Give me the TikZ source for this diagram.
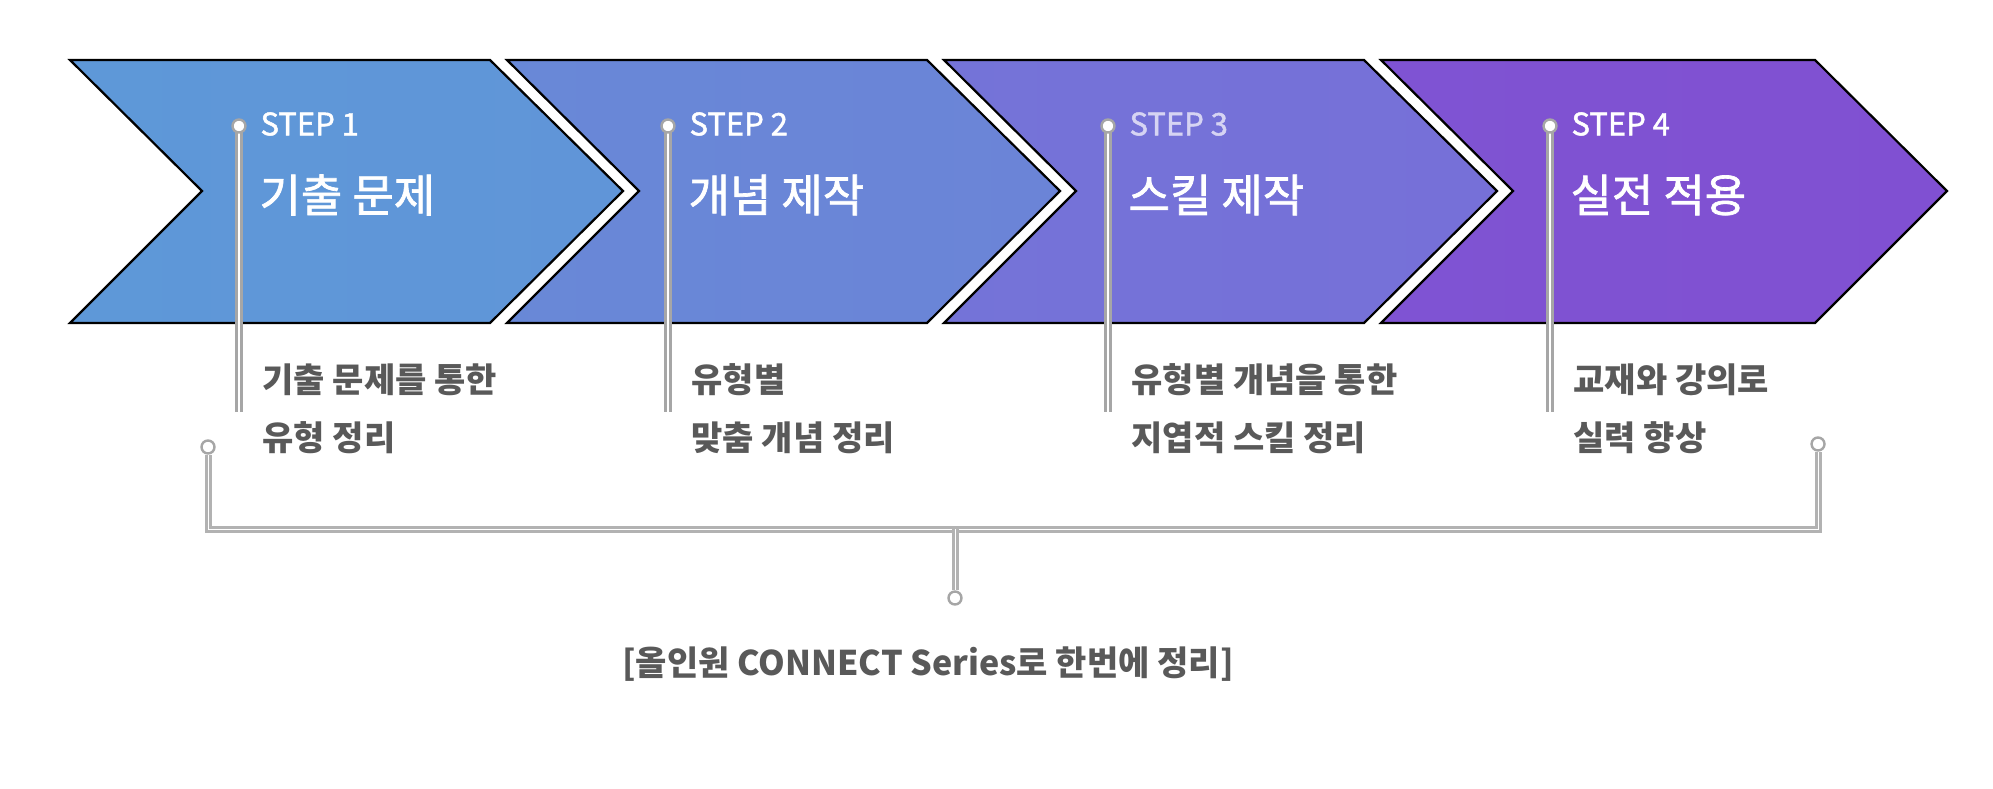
\documentclass[tikz,border=0pt]{standalone}
\usepackage{fontspec}
\setmainfont{Noto Sans CJK KR}
\newfontfamily\medf{Noto Sans CJK KR}[FakeBold=1.5]
\begin{document}
\begin{tikzpicture}[x=1pt,y=-1pt,
  chev/.style={draw=black,line width=2.2pt,line join=miter},
  lead/.style={draw=gray!70,line width=3.6pt,double=white,double distance=1.6pt},
  dot/.style={circle,draw=gray!70,fill=white,line width=2.4pt,minimum size=13pt,inner sep=0pt},
  steplbl/.style={anchor=west,text=white,font=\medf\fontsize{31}{34}\selectfont},
  ttl/.style={anchor=west,text=white,font=\medf\fontsize{45}{50}\selectfont},
  desc/.style={anchor=north west,align=left,text=black!65,font=\fontsize{34}{58}\selectfont\bfseries},
  lnk/.style={draw=gray!60,line width=3pt,double=white,double distance=1pt}]
\useasboundingbox (0,0) rectangle (1993,789);
\definecolor{c1}{HTML}{5E98D8}\definecolor{c2}{HTML}{6B84D7}
\definecolor{c3}{HTML}{7670D8}\definecolor{c4}{HTML}{8050D2}
\path[chev,left color=c1,right color=c1!85!c2] (70,60)--(490,60)--(623,191)--(490,323)--(70,323)--(202,191)--cycle;
\path[chev,left color=c2!80!c1,right color=c2] (507,60)--(927,60)--(1060,191)--(927,323)--(507,323)--(639,191)--cycle;
\path[chev,left color=c3!85!c2,right color=c3] (944,60)--(1364,60)--(1497,191)--(1364,323)--(944,323)--(1076,191)--cycle;
\path[chev,left color=c4!90!c3,right color=c4] (1381,60)--(1815,60)--(1947,191)--(1815,323)--(1381,323)--(1513,191)--cycle;
\foreach \i/\x/\s/\t/\d/\sc in {1/239/STEP 1/기출 문제/{기출 문제를 통한\\유형 정리}/white,
  2/668/STEP 2/개념 제작/{유형별\\맞춤 개념 정리}/white,
  3/1108/STEP 3/스킬 제작/{유형별 개념을 통한\\지엽적 스킬 정리}/c3!30!white,
  4/1550/STEP 4/실전 적용/{교재와 강의로\\실력 향상}/white}{
  \coordinate (e\i) at (\x,412);
  \draw[lead] (\x,126) -- (e\i);
  \node[dot] (d\i) at (\x,126) {};
  \node[steplbl,text=\sc] (s\i) at (\x+18,124) {\s};
  \node[ttl] (t\i) at (\x+17,195) {\t};
  \node[desc] (x\i) at (\x+20,360) {\d};
}
\node[dot] (bl) at (208,447) {};
\node[dot] (br) at (1818,444) {};
\node[dot] (bc) at (955,598) {};
\coordinate (hl) at (208,529); \coordinate (hr) at (1818,529); \coordinate (hc) at (955,529);
\draw[lnk] (bl) -- (hl) -- (hr) -- (br);
\draw[lnk] (hc) -- (bc);
\node[text=black!65,font=\fontsize{34}{40}\selectfont\bfseries] (cap) at (928,664) {[올인원 CONNECT Series로 한번에 정리]};
\end{tikzpicture}
\end{document}
